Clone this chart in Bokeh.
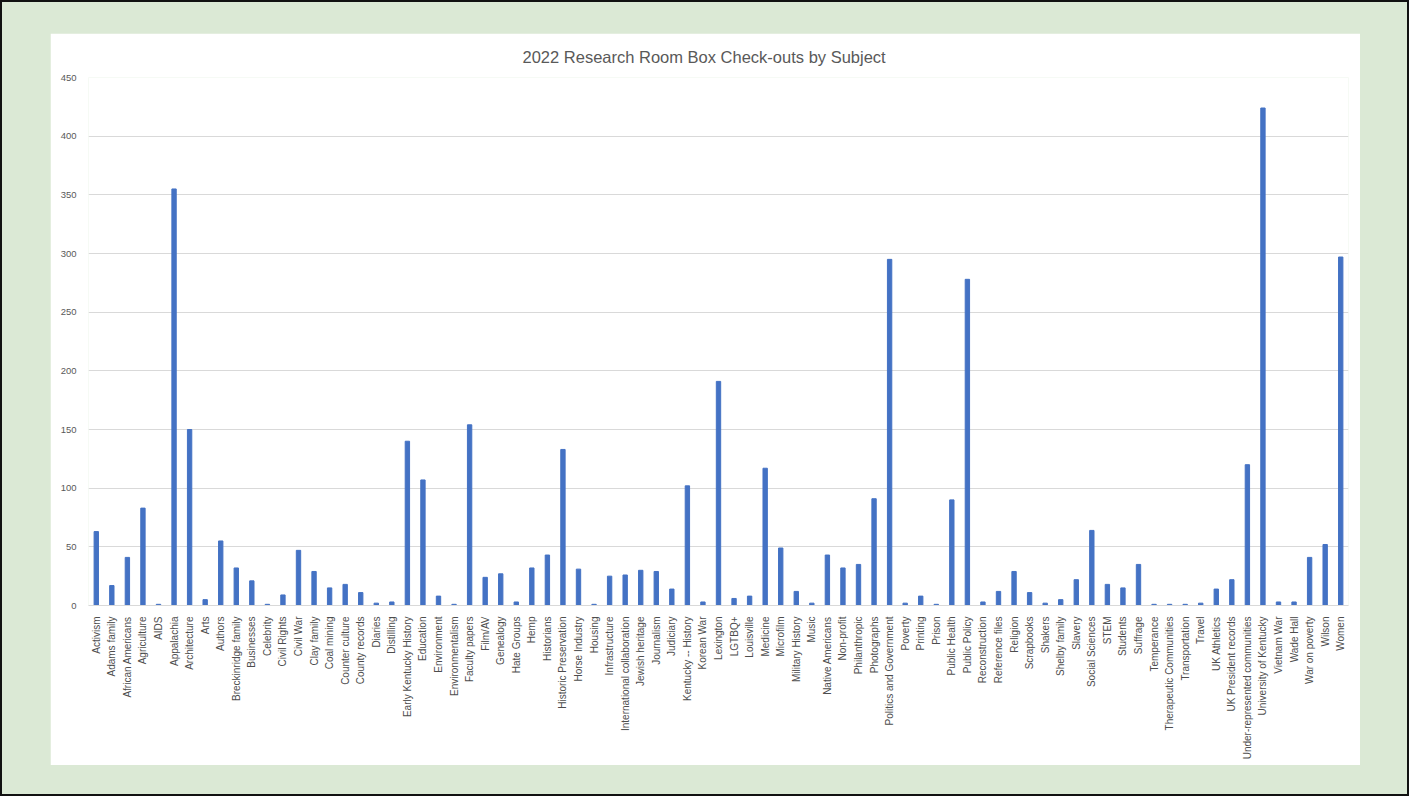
import math
from bokeh.plotting import figure
from bokeh.layouts import column
from bokeh.models import ColumnDataSource, FixedTicker
from bokeh.embed import file_html
from bokeh.resources import INLINE

subjects = [
    "Activism", "Adams family", "African Americans", "Agriculture", "AIDS", "Appalachia",
    "Architecture", "Arts", "Authors", "Breckinridge family", "Businesses", "Celebrity",
    "Civil Rights", "Civil War", "Clay family", "Coal mining", "Counter culture",
    "County records", "Diaries", "Distilling", "Early Kentucky History", "Education",
    "Environment", "Environmentalism", "Faculty papers", "Film/AV", "Genealogy",
    "Hate Groups", "Hemp", "Historians", "Historic Preservation", "Horse Industry",
    "Housing", "Infrastructure", "International collaboration", "Jewish heritage",
    "Journalism", "Judiciary", "Kentucky -- History", "Korean War", "Lexington",
    "LGTBQ+", "Louisville", "Medicine", "Microfilm", "Military History", "Music",
    "Native Americans", "Non-profit", "Philanthropic", "Photographs",
    "Politics and Government", "Poverty", "Printing", "Prison", "Public Health",
    "Public Policy", "Reconstruction", "Reference files", "Religion", "Scrapbooks",
    "Shakers", "Shelby family", "Slavery", "Social Sciences", "STEM", "Students",
    "Suffrage", "Temperance", "Therapeutic Communities", "Transportation", "Travel",
    "UK Athletics", "UK President records", "Under-represented communities",
    "University of Kentucky", "Vietnam War", "Wade Hall", "War on poverty", "Wilson",
    "Women",
]
checkouts = [
    63, 17, 41, 83, 1, 355,
    150, 5, 55, 32, 21, 1,
    9, 47, 29, 15, 18,
    11, 2, 3, 140, 107,
    8, 1, 154, 24, 27,
    3, 32, 43, 133, 31,
    1, 25, 26, 30,
    29, 14, 102, 3, 191,
    6, 8, 117, 49, 12, 2,
    43, 32, 35, 91,
    295, 2, 8, 1, 90,
    278, 3, 12, 29, 11,
    2, 5, 22, 64, 18, 15,
    35, 1, 1, 1, 2,
    14, 22, 120,
    424, 3, 3, 41, 52,
    297,
]
y_ticks = [0, 50, 100, 150, 200, 250, 300, 350, 400, 450]
title_text = "2022 Research Room Box Check-outs by Subject"

source = ColumnDataSource(data=dict(subject=subjects, count=checkouts))

p = figure(
    x_range=subjects, y_range=(0, 450),
    width=1310, height=732,
    output_backend="svg", toolbar_location=None,
    title=title_text,
    min_border_left=38, min_border_right=12, min_border_top=44, min_border_bottom=160,
)
p.vbar(x="subject", top="count", width=0.28, source=source, color="#4472C4")

p.background_fill_color = "white"
p.border_fill_color = "white"
p.outline_line_color = None

p.title.align = "left"
p.title.offset = 434
p.title.text_font = "Liberation Sans"
p.title.text_font_size = "16.5px"
p.title.text_font_style = "normal"
p.title.text_color = "#595959"
p.title.standoff = 23

p.x_range.range_padding = 0.0
p.xgrid.grid_line_color = None
p.ygrid.grid_line_color = "#d9d9d9"
p.ygrid.grid_line_width = 1

p.yaxis.ticker = FixedTicker(ticks=y_ticks)
p.yaxis.axis_line_color = None
p.yaxis.major_tick_line_color = None
p.yaxis.minor_tick_line_color = None
p.yaxis.major_label_text_font = "Liberation Sans"
p.yaxis.major_label_text_font_size = "9.5px"
p.yaxis.major_label_text_color = "#595959"
p.yaxis.major_label_standoff = 6

p.xaxis.axis_line_color = "#d9d9d9"
p.xaxis.major_tick_line_color = None
p.xaxis.minor_tick_line_color = None
p.xaxis.major_label_orientation = math.pi / 2
p.xaxis.major_label_text_font = "Liberation Sans"
p.xaxis.major_label_text_font_size = "10px"
p.xaxis.major_label_text_color = "#4d4d4d"
p.xaxis.major_label_standoff = 5

layout = column(
    p,
    styles={
        "background-color": "#dbe9d5",
        "border": "2px solid #111",
        "padding": "31px 47px 29px 48px",
    },
)

open("out.html", "w").write(file_html(layout, INLINE))
